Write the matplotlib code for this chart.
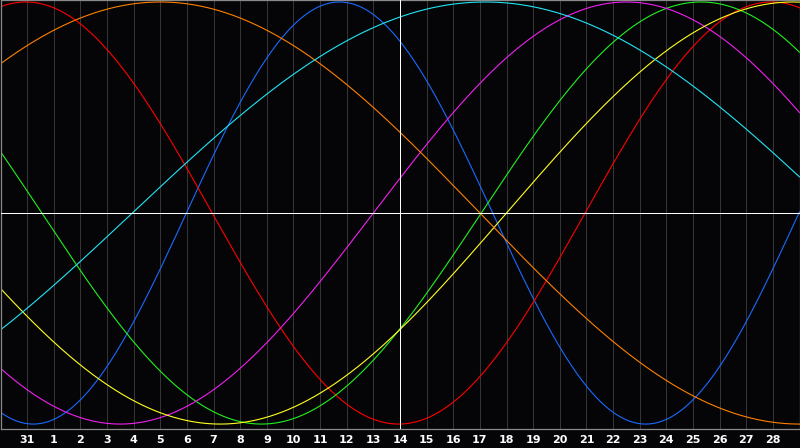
import numpy as np
import matplotlib
matplotlib.use("Agg")
import matplotlib.pyplot as plt

# cycles: period in days and the day index (x position) where each curve peaks
names=["physical","emotional","intellectual","intuitive","aesthetic","awareness","spiritual"]
periods=[23,28,33,38,43,48,53]
peaks=[12.73,0.95,26.3,23.5,29.75,6.0,18.2]
colors=["#1a6aff","#ff0000","#20f020","#f020f0","#ffff20","#ff8000","#22e4f4"]

# day labels under the grid lines (x index 1..29)
day_labels=["31"]+[str(d) for d in range(1,29)]
today=15  # index of the white centre line (day 14)

bg="#050507"

fig=plt.figure(figsize=(8,4.48),dpi=100)
fig.patch.set_facecolor(bg)
ax=fig.add_axes([0.5/800,(448-428.5)/448,799/800,428/448])
ax.set_facecolor(bg)

#grid
for k in range(1,len(day_labels)+1):
    ax.axvline(k,color="#353535",lw=0.72,zorder=1,antialiased=False)
ax.axvline(today,color="white",lw=0.72,zorder=3,antialiased=False)
ax.axhline(0,color="white",lw=0.72,zorder=3,antialiased=False)

t=np.linspace(0,30,1200)
for p,pk,c,n in zip(periods,peaks,colors,names):
    ax.plot(t,np.cos(2*np.pi*(t-pk)/p),color=c,lw=0.8,label=n,zorder=2)

ax.set_xlim(0,30)
ax.set_ylim(-1.021,1.007)
ax.set_xticks(range(1,len(day_labels)+1))
ax.set_xticklabels(day_labels,color="white",fontsize=8,fontweight="bold")
ax.set_yticks([])
ax.tick_params(axis="x",length=0,pad=5)
for s in ax.spines.values():
    s.set_color("#8a8a8a")
    s.set_linewidth(0.9)

plt.savefig("out.png",dpi=100,facecolor=bg)
